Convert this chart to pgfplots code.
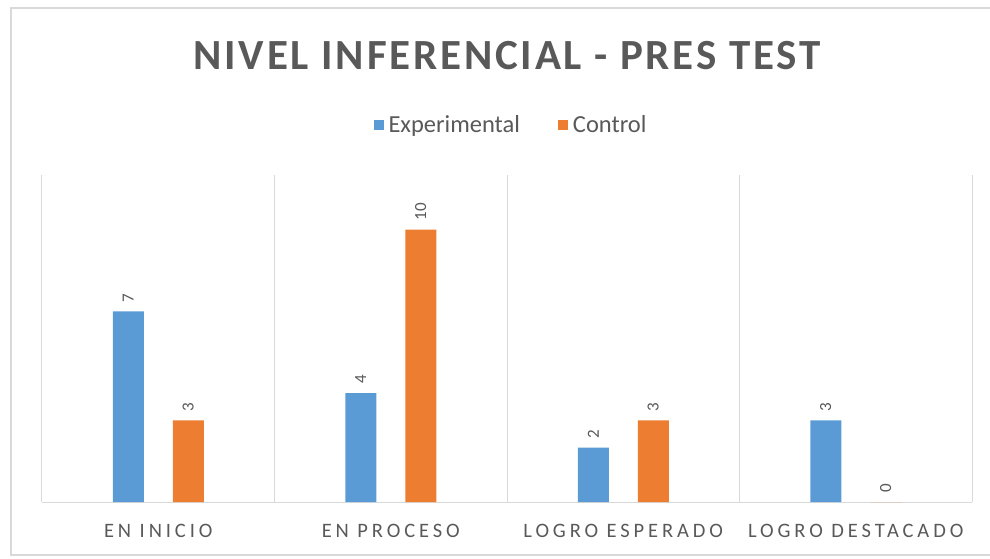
\documentclass[border=0pt]{standalone}
\usepackage{pgfplots}
\pgfplotsset{compat=1.18}
\usepackage{fontspec}
\setmainfont{Carlito}
\newfontfamily\titlefont[LetterSpace=6.5]{Carlito}
\newfontfamily\tickfont[LetterSpace=19]{Carlito}
\definecolor{cblue}{HTML}{5B9BD5}
\definecolor{corange}{HTML}{ED7D31}
\definecolor{txtgray}{HTML}{595959}
\definecolor{gridgray}{HTML}{D9D9D9}
\begin{document}
\begin{tikzpicture}[x=1pt,y=1pt]
\path[use as bounding box] (-42pt,-56pt) rectangle (948pt,502pt);
\begin{axis}[
  at={(0,0)}, anchor=south west,
  scale only axis, width=930pt, height=327pt,
  ymin=0, ymax=12,
  xmin=-0.5, xmax=3.5,
  axis lines=none,
  ytick=\empty,
  xtick=\empty,
  ybar=29pt, bar width=31pt,
  clip=false,
  /pgf/number format/assume math mode=true,
  nodes near coords,
  every node near coord/.append style={rotate=90, anchor=west, font=\fontsize{17}{17}\selectfont, text=txtgray, inner sep=0pt, yshift=0pt, xshift=9pt},
  legend style={at={(0.5,1)}, anchor=south, xshift=4pt, yshift=37pt, draw=none, legend columns=-1, font=\fontsize{24.5}{24.5}\selectfont, text=txtgray, /tikz/every odd column/.append style={column sep=3pt}, /tikz/every even column/.append style={column sep=36pt}},
  legend image code/.code={\fill[#1] (0pt,-5pt) rectangle (10pt,5pt);},
]
\pgfplotsinvokeforeach{-0.5,0.5,1.5,2.5,3.5}{
  \draw[gridgray, line width=1pt] (axis cs:#1,0) -- (axis cs:#1,12);
}
\draw[gridgray, line width=1pt] (axis cs:-0.5,0) -- (axis cs:3.5,0);
\addplot[fill=cblue, draw=none] coordinates {(0,7) (1,4) (2,2) (3,3)};
\addplot[fill=corange, draw=none] coordinates {(0,3) (1,10) (2,3) (3,0)};
\legend{Experimental, Control}
\end{axis}
\node[text=txtgray, font=\tickfont\fontsize{20.5}{20.5}\selectfont] at (116.25pt,-29pt) {EN INICIO};
\node[text=txtgray, font=\tickfont\fontsize{20.5}{20.5}\selectfont] at (348.75pt,-29pt) {EN PROCESO};
\node[text=txtgray, font=\tickfont\fontsize{20.5}{20.5}\selectfont] at (581.25pt,-29pt) {LOGRO ESPERADO};
\node[text=txtgray, font=\tickfont\fontsize{20.5}{20.5}\selectfont] at (813.75pt,-29pt) {LOGRO DESTACADO};
\node[text=txtgray, font=\titlefont\bfseries\fontsize{43}{43}\selectfont] at (465pt,446pt) {NIVEL INFERENCIAL - PRES TEST};
\draw[gridgray, line width=1.2pt] (1000pt,494pt) -- (-31pt,494pt) -- (-31pt,-53pt) -- (1000pt,-53pt);
\end{tikzpicture}
\end{document}
